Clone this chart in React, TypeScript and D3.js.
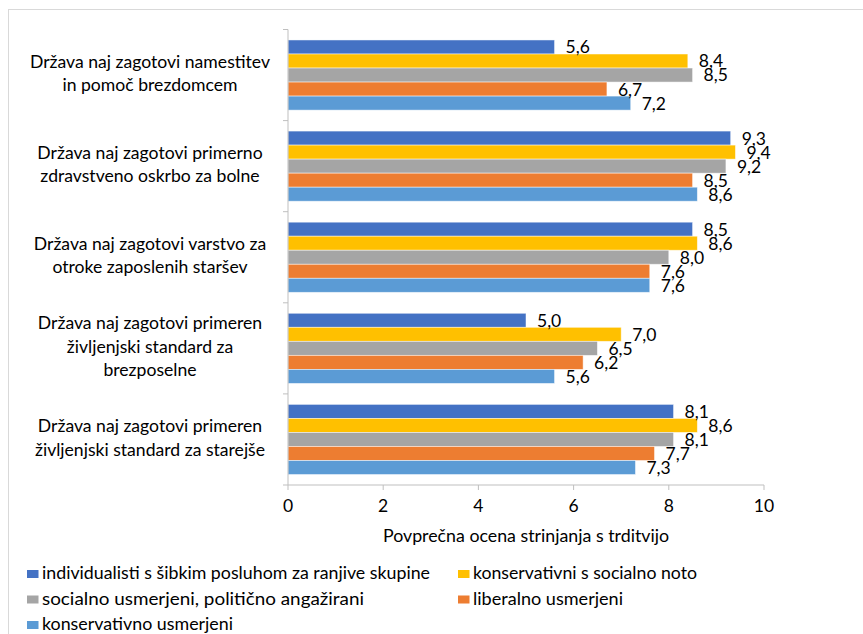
import * as d3 from "d3"

// categories (top to bottom), each label split in lines
const categories = [
  ["Država naj zagotovi namestitev", "in pomoč brezdomcem"],
  ["Država naj zagotovi primerno", "zdravstveno oskrbo za bolne"],
  ["Država naj zagotovi varstvo za", "otroke zaposlenih staršev"],
  ["Država naj zagotovi primeren", "življenjski standard za", "brezposelne"],
  ["Država naj zagotovi primeren", "življenjski standard za starejše"],
]

const seriesNames = [
  "individualisti s šibkim posluhom za ranjive skupine",
  "konservativni s socialno noto",
  "socialno usmerjeni, politično angažirani",
  "liberalno usmerjeni",
  "konservativno usmerjeni",
]
const seriesColors = ["#4472C4", "#FFC000", "#A5A5A5", "#ED7D31", "#5B9BD5"]

// values per series, one per category
const individualisti = [5.6, 9.3, 8.5, 5.0, 8.1]
const konservativniSocial = [8.4, 9.4, 8.6, 7.0, 8.6]
const socialnoUsmerjeni = [8.5, 9.2, 8.0, 6.5, 8.1]
const liberalno = [6.7, 8.5, 7.6, 6.2, 7.7]
const konservativno = [7.2, 8.6, 7.6, 5.6, 7.3]
const seriesValues = [individualisti, konservativniSocial, socialnoUsmerjeni, liberalno, konservativno]

const xTicks = [0, 2, 4, 6, 8, 10]
const xTitle = "Povprečna ocena strinjanja s trditvijo"

// legend text widths (the picture is stretched sideways)
const legendWidths = [388, 224, 322, 150, 191]

const W = 863
const H = 634
const font = "Lato, 'Open Sans', sans-serif"

export default function App() {
  const plot = { left: 288, right: 764, top: 29.5, bottom: 485 }
  const x = d3.scaleLinear().domain([0, 10]).range([plot.left, plot.right])
  const y = d3.scaleBand<number>()
    .domain(d3.range(categories.length))
    .range([plot.top, plot.bottom])
    .paddingInner(0.23)
    .paddingOuter(0.115)
  const inner = d3.scaleBand<number>()
    .domain(d3.range(seriesNames.length))
    .range([0, y.bandwidth()])
  const step = (plot.bottom - plot.top) / categories.length
  const boundaries = d3.range(categories.length + 1).map(i => plot.top + i * step)
  const fmt = (v: number) => v.toFixed(1).replace(".", ",")
  const axisColor = "#BFBFBF"

  const legendPos = seriesNames.map((_, i) => ({
    x: i % 2 === 0 ? 27 : 458,
    y: 574 + Math.floor(i / 2) * 25.5,
  }))

  return (
    <svg width={W} height={H} style={{ position: "absolute", left: 0, top: 0 }} fontFamily={font}>
      <rect x={0} y={0} width={W} height={H} fill="#fff" />
      <rect x={8.5} y={9.5} width={W + 10} height={H + 10} fill="none" stroke="#D9D9D9" />

      {/* bars */}
      {categories.map((_, ci) => (
        <g key={ci} transform={`translate(0,${y(ci)})`}>
          {seriesValues.map((vals, si) => (
            <rect key={si}
              x={x(0)} y={inner(si)}
              width={x(vals[ci]) - x(0)} height={inner.bandwidth()}
              fill={seriesColors[si]} stroke="#fff" strokeOpacity={0.6} strokeWidth={0.8} />
          ))}
          {seriesValues.map((vals, si) => (
            <text key={"l" + si}
              x={x(vals[ci]) + 11} y={inner(si)! + inner.bandwidth() / 2 + 2}
              dominantBaseline="middle" fontSize={17.5} fill="#000">
              {fmt(vals[ci])}
            </text>
          ))}
        </g>
      ))}

      {/* axes */}
      <line x1={plot.left} x2={plot.left} y1={plot.top} y2={plot.bottom} stroke={axisColor} />
      {boundaries.map((b, i) => (
        <line key={i} x1={plot.left - 5} x2={plot.left} y1={b} y2={b} stroke={axisColor} />
      ))}
      <line x1={plot.left} x2={plot.right} y1={plot.bottom} y2={plot.bottom} stroke={axisColor} />
      {xTicks.map(t => (
        <g key={t}>
          <line x1={x(t)} x2={x(t)} y1={plot.bottom} y2={plot.bottom + 5} stroke={axisColor} />
          <text x={x(t)} y={508} textAnchor="middle" dominantBaseline="middle" fontSize={17.5} fill="#000">{t}</text>
        </g>
      ))}
      <text x={(plot.left + plot.right) / 2} y={537} textAnchor="middle" dominantBaseline="middle"
        fontSize={17.8} fill="#000">{xTitle}</text>

      {/* category labels */}
      {categories.map((lines, ci) => {
        const cy = y(ci)! + y.bandwidth() / 2
        const lh = 23.5
        return lines.map((ln, li) => (
          <text key={ci + "-" + li} x={150} y={cy + (li - (lines.length - 1) / 2) * lh}
            textAnchor="middle" dominantBaseline="middle" fontSize={17.6} fill="#000">{ln}</text>
        ))
      })}

      {/* legend */}
      {seriesNames.map((name, i) => (
        <g key={name}>
          <rect x={legendPos[i].x} y={legendPos[i].y - 4} width={11.5} height={8} fill={seriesColors[i]} />
          <text x={legendPos[i].x + 15} y={legendPos[i].y + 1} dominantBaseline="middle" fontSize={17}
            textLength={legendWidths[i]} lengthAdjust="spacingAndGlyphs" fill="#000">{name}</text>
        </g>
      ))}
    </svg>
  )
}
